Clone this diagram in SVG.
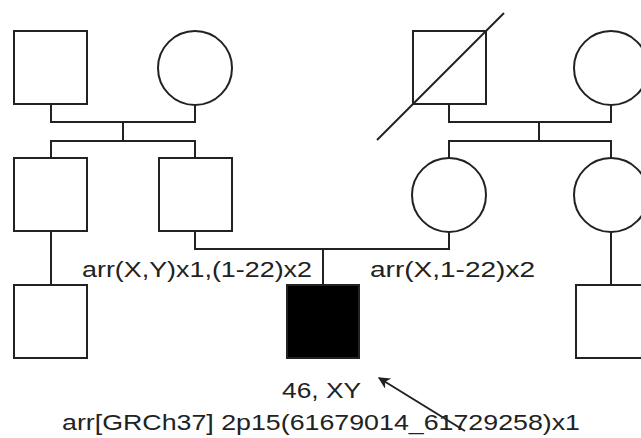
<svg xmlns="http://www.w3.org/2000/svg" width="641" height="438" viewBox="0 0 641 438">
<style>
.s{fill:#fff;stroke:#222;stroke-width:2}
.a{fill:#000;stroke:#222;stroke-width:2}
.l{fill:none;stroke:#222;stroke-width:2}
.t{font-family:"Liberation Sans",Arial,sans-serif;font-size:22px;fill:#222}
</style>
<defs>
<marker id="ah" viewBox="0 0 10 10" refX="9" refY="5" markerWidth="6" markerHeight="6" orient="auto" markerUnits="strokeWidth">
<path d="M0,0 L10,5 L0,10 L3,5 Z" fill="#222"/>
</marker>
</defs>
<g id="connectors">
<path class="l" d="M51,104 V122 H195 V105 M123,122 V141 M51,158 V141 H195 V158"/>
<path class="l" d="M51,231 V285"/>
<path class="l" d="M195,231 V249 H449 V232 M323,249 V285"/>
<path class="l" d="M449,104 V122 H611 V105 M539,122 V141 M449,158 V141 H611 V158"/>
<path class="l" d="M611,232 V285"/>
<line class="l" x1="465" y1="431" x2="379" y2="378" marker-end="url(#ah)"/>
</g>
<g id="gf1"><rect class="s" x="14" y="31" width="73" height="73"/></g>
<g id="gm1"><circle class="s" cx="195" cy="68" r="37"/></g>
<g id="uncle"><rect class="s" x="14" y="158" width="73" height="73"/></g>
<g id="father"><rect class="s" x="159" y="158" width="73" height="73"/></g>
<g id="cousin"><rect class="s" x="14" y="285" width="73" height="73"/></g>
<g id="gf2"><rect class="s" x="413" y="31" width="73" height="73"/><line class="l" x1="377" y1="140" x2="504" y2="13"/></g>
<g id="gm2"><circle class="s" cx="611" cy="68" r="37"/></g>
<g id="mother"><circle class="s" cx="449" cy="195" r="37"/></g>
<g id="aunt"><circle class="s" cx="611" cy="195" r="37"/></g>
<g id="cousin2"><rect class="s" x="576" y="285" width="73" height="73"/></g>
<g id="proband"><rect class="a" x="287" y="285" width="72" height="73"/></g>
<g id="labels">
<text class="t" x="82" y="277" textLength="230" lengthAdjust="spacingAndGlyphs">arr(X,Y)x1,(1-22)x2</text>
<text class="t" x="370" y="277" textLength="165" lengthAdjust="spacingAndGlyphs">arr(X,1-22)x2</text>
<text class="t" x="282" y="398" textLength="79" lengthAdjust="spacingAndGlyphs">46, XY</text>
<text class="t" x="62" y="430" textLength="518" lengthAdjust="spacingAndGlyphs">arr[GRCh37] 2p15(61679014_61729258)x1</text>
</g>
</svg>
